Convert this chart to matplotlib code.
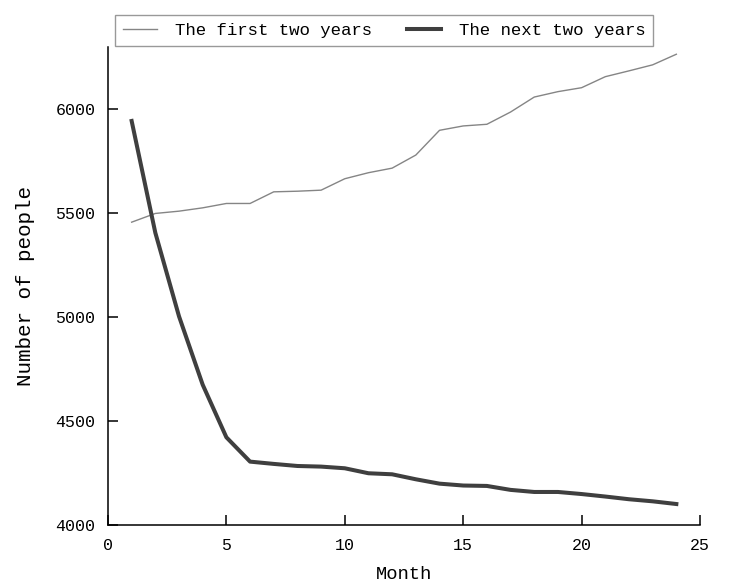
import numpy as np
import matplotlib.pyplot as plt

plt.rcParams['font.family'] = ['Liberation Mono', 'DejaVu Sans Mono']

############################################
# data
############################################

months = list(range(1, 25))

first_two = [5457, 5499, 5510, 5526, 5547, 5547, 5603, 5606, 5611, 5666,
             5695, 5717, 5780, 5899, 5920, 5928, 5987, 6059, 6085, 6104,
             6157, 6185, 6214, 6265]

next_two = [5944, 5406, 5004, 4675, 4422, 4305, 4294, 4284, 4281, 4273,
            4249, 4244, 4220, 4199, 4190, 4188, 4169, 4159, 4159, 4149,
            4137, 4124, 4114, 4101]

############################################
# plot
############################################

fig = plt.figure(figsize=(7.41, 5.87), dpi=100)
ax = fig.add_axes([0.1457, 0.1056, 0.7990, 0.8144])

ax.plot(months, first_two, color='#858585', linewidth=1.0,
        label='The first two years')
ax.plot(months, next_two, color='#3f3f3f', linewidth=2.9,
        label='The next two years')

ax.set_xlim(0, 25)
ax.set_ylim(4000, 6300)
ax.set_xticks([0, 5, 10, 15, 20, 25])
ax.set_yticks([4000, 4500, 5000, 5500, 6000])

ax.spines['top'].set_visible(False)
ax.spines['right'].set_visible(False)
for s in ('left', 'bottom'):
    ax.spines[s].set_linewidth(1.1)

ax.tick_params(direction='in', length=7, width=1.1, labelsize=12, pad=9)

ax.set_xlabel('Month', fontsize=13.5, labelpad=10)
ax.set_ylabel('Number of people', fontsize=15, labelpad=15)

leg = fig.legend(loc='lower left', bbox_to_anchor=(0.155, 0.922), ncol=2,
                 fontsize=12.5, frameon=True, fancybox=False, edgecolor='#808080',
                 handlelength=2.0, handletextpad=1.0, columnspacing=2.0,
                 borderpad=0.45, borderaxespad=0)
leg.get_frame().set_linewidth(1.0)

fig.savefig('out.png', dpi=100)
